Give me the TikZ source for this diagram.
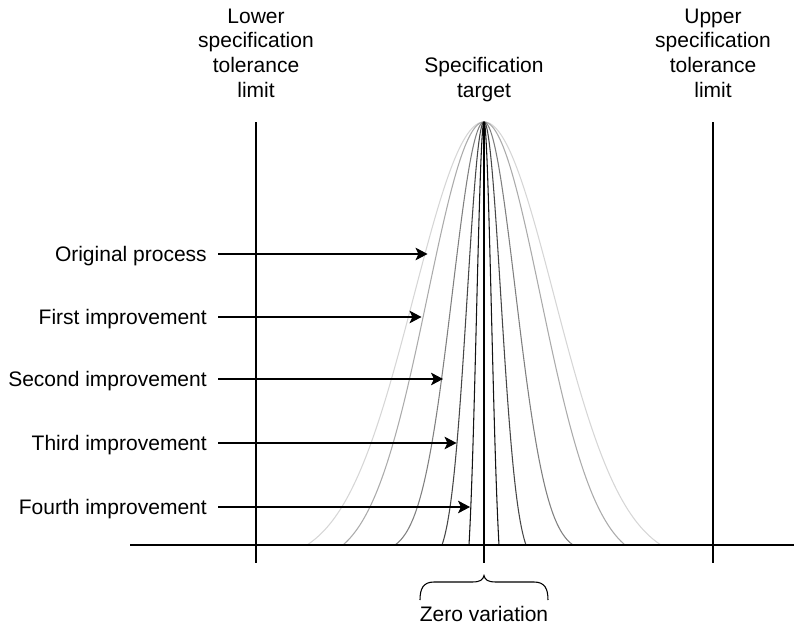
\documentclass[tikz,border=0pt]{standalone}
\usepackage{fontspec}
\setmainfont{Liberation Sans}
\usetikzlibrary{arrows.meta}

% Bell curve centred on the target line: #1 colour, #2 half width at the base, #3 sigma
\newcommand\bellcurve[3]{%
  \pgfmathsetmacro\bellfloor{exp(-0.5*(#2/#3)^2)}%
  \draw[bell,#1] plot[domain=-#2:#2]
    ({484+\x},{545-423*(exp(-0.5*(\x/#3)^2)-\bellfloor)/(1-\bellfloor)});%
}

\begin{document}
\begin{tikzpicture}[x=0.75pt,y=-0.75pt,
  lbl/.style={font=\fontsize{15.75pt}{18.5pt}\selectfont, inner sep=0pt},
  toplbl/.style={lbl, align=center, anchor=south, text depth=0pt},
  sidelbl/.style={lbl, anchor=east, text height=11.3pt, text depth=0pt},
  axis/.style={line width=0.8pt, black},
  pointer/.style={line width=0.8pt, -{Stealth[length=9pt,width=9.5pt,inset=2.2pt]}},
  bell/.style={line width=0.8pt, smooth, samples=161}
]
\useasboundingbox (0,0) rectangle (794,628);

% distributions, widest (original process) to narrowest (fourth improvement)
\bellcurve{black!16}{177}{70}
\bellcurve{black!33}{141}{56.5}
\bellcurve{black!50}{89}{31.5}
\bellcurve{black!72}{42}{16.8}
\bellcurve{black!92}{15}{7.5}

% axis, tolerance limits and target
\coordinate (axL) at (130,545);
\coordinate (axR) at (794,545);
\draw[axis] (axL) -- (axR);

\coordinate (lslTop) at (256,122);
\coordinate (lslBot) at (256,563);
\coordinate (uslTop) at (713,122);
\coordinate (uslBot) at (713,563);
\coordinate (tgtTop) at (484,122);
\coordinate (tgtBot) at (484,563);
\draw[axis] (lslTop) -- (lslBot);
\draw[axis] (uslTop) -- (uslBot);
\draw[axis] (tgtTop) -- (tgtBot);

% headings
\node[toplbl] (lsl) at (256,97.5) {Lower\\specification\\tolerance\\limit};
\node[toplbl] (tgt) at (484,97.5) {Specification\\target};
\node[toplbl] (usl) at (713,97.5) {Upper\\specification\\tolerance\\limit};

% labelled pointers to each distribution
\node[sidelbl] (orig) at (207,254) {Original process};
\node[sidelbl] (imp1) at (207,317) {First improvement};
\node[sidelbl] (imp2) at (207,379) {Second improvement};
\node[sidelbl] (imp3) at (207,443) {Third improvement};
\node[sidelbl] (imp4) at (207,507) {Fourth improvement};

\coordinate (origTip) at (427.5,254);
\coordinate (imp1Tip) at (421.5,317);
\coordinate (imp2Tip) at (443,379);
\coordinate (imp3Tip) at (456.5,443);
\coordinate (imp4Tip) at (470,507);

\draw[pointer] ([xshift=8.25pt]orig.east) -- (origTip);
\draw[pointer] ([xshift=8.25pt]imp1.east) -- (imp1Tip);
\draw[pointer] ([xshift=8.25pt]imp2.east) -- (imp2Tip);
\draw[pointer] ([xshift=8.25pt]imp3.east) -- (imp3Tip);
\draw[pointer] ([xshift=8.25pt]imp4.east) -- (imp4Tip);

% brace under the target
\draw[line width=0.8pt] (420,600) .. controls (420,589) and (423,582) .. (434,582)
  -- (472,582) .. controls (480,582) and (483,580) .. (484,575.5)
  .. controls (485,580) and (488,582) .. (496,582)
  -- (534,582) .. controls (545,582) and (548,589) .. (548,600);
\node[lbl, anchor=base] (zero) at (484,621) {Zero variation};
\end{tikzpicture}
\end{document}
